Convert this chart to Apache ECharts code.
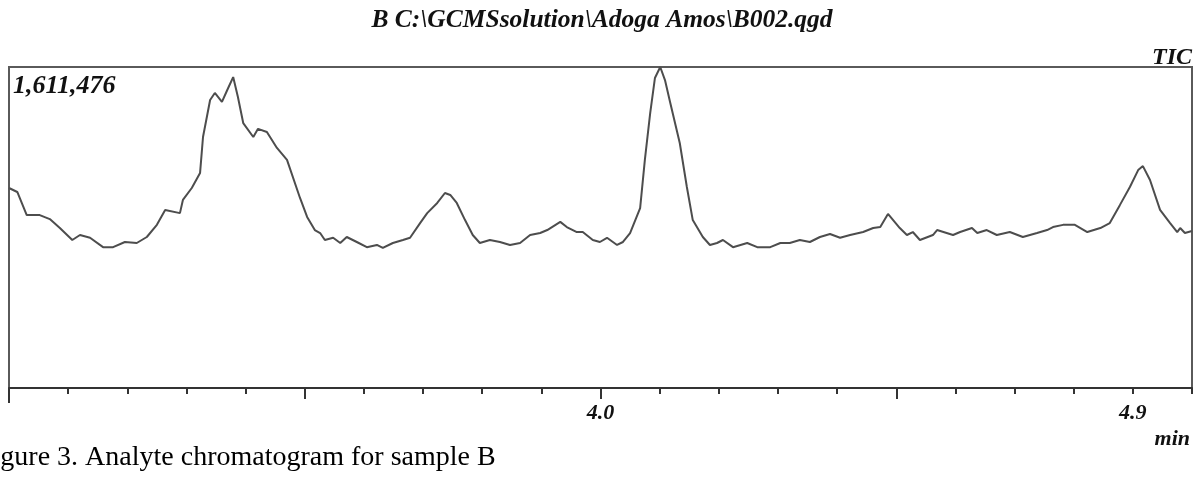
<!DOCTYPE html>
<html>
<head>
<meta charset="utf-8">
<script src="https://cdn.jsdelivr.net/npm/echarts@6/dist/echarts.min.js"></script>
<style>
html,body{margin:0;padding:0;background:#fff;}
#chart{width:1201px;height:478px;}
</style>
</head>
<body>
<div id="chart"></div>
<script>
// Retention time (min)
const times = [3.000,3.014,3.030,3.052,3.069,3.086,3.107,3.120,3.137,3.159,3.176,3.196,3.216,3.233,3.250,3.264,3.289,3.294,3.309,3.323,3.328,3.340,3.348,3.360,3.369,3.379,3.387,3.396,3.413,3.421,3.436,3.453,3.470,3.492,3.504,3.517,3.526,3.534,3.548,3.560,3.571,3.588,3.605,3.622,3.632,3.649,3.666,3.678,3.695,3.707,3.724,3.737,3.746,3.757,3.771,3.784,3.796,3.813,3.830,3.847,3.864,3.881,3.898,3.910,3.932,3.943,3.960,3.970,3.987,3.999,4.011,4.028,4.038,4.050,4.067,4.075,4.084,4.092,4.101,4.109,4.118,4.134,4.146,4.156,4.173,4.185,4.197,4.207,4.224,4.248,4.265,4.287,4.304,4.320,4.337,4.354,4.371,4.388,4.405,4.422,4.444,4.461,4.473,4.486,4.506,4.518,4.528,4.540,4.562,4.569,4.596,4.608,4.628,4.637,4.653,4.670,4.692,4.714,4.738,4.755,4.765,4.782,4.802,4.823,4.845,4.861,4.878,4.895,4.909,4.917,4.929,4.946,4.963,4.975,4.980,4.988,5.000];
// TIC intensity (counts)
const intensity = [1004000,984000,868000,868000,848000,803000,743000,768000,754000,707000,707000,733000,728000,758000,819000,894000,878000,944000,1004000,1079000,1260000,1446000,1481000,1436000,1496000,1561000,1461000,1330000,1260000,1301000,1285000,1205000,1145000,954000,859000,793000,778000,743000,754000,728000,758000,733000,707000,718000,703000,728000,743000,754000,828000,878000,929000,979000,969000,929000,843000,768000,728000,743000,733000,718000,728000,768000,778000,793000,834000,808000,783000,783000,743000,733000,754000,718000,733000,778000,903000,1145000,1380000,1556000,1611476,1546000,1431000,1230000,1009000,843000,758000,718000,728000,743000,707000,728000,707000,707000,728000,728000,743000,733000,758000,773000,754000,768000,783000,803000,808000,874000,803000,768000,783000,743000,768000,793000,768000,783000,803000,778000,793000,768000,783000,758000,778000,793000,808000,819000,819000,783000,803000,828000,918000,1009000,1094000,1114000,1044000,894000,828000,783000,803000,778000,788000];
const yMax = 1611476;
const xTickLabels = ['4.0', '4.9'];
const majorTicks = [3.5, 4.0, 4.5];
const titleText = 'B C:\\GCMSsolution\\Adoga Amos\\B002.qgd';
const caption = 'Figure 3. Analyte chromatogram for sample B';

const data = times.map((t, i) => [t, intensity[i]]);
const chart = echarts.init(document.getElementById('chart'), null, {renderer: 'canvas'});
const serifBI = 'italic bold ';
chart.setOption({
  animation: false,
  grid: {left: 9, right: 9, top: 67, bottom: 90, show: true, borderColor: '#5a5a5a', borderWidth: 2, backgroundColor: 'transparent'},
  xAxis: [
    {type: 'value', min: 3.0, max: 5.0, interval: 0.1,
     axisLine: {show: true, lineStyle: {color: '#333', width: 2}},
     axisTick: {show: true, length: 6, lineStyle: {color: '#333', width: 2}},
     splitLine: {show: false},
     axisLabel: {show: true, customValues: xTickLabels.map(Number), margin: 14,
       formatter: v => v.toFixed(1),
       fontFamily: 'Liberation Serif', fontStyle: 'italic', fontWeight: 'bold', fontSize: 22, color: '#111'}},
    {type: 'value', min: 3.0, max: 5.0, position: 'bottom',
     axisLine: {show: false},
     axisTick: {show: true, customValues: majorTicks, length: 11, lineStyle: {color: '#333', width: 2}},
     axisLabel: {show: false}, splitLine: {show: false}},
    {type: 'value', min: 3.0, max: 5.0, position: 'bottom',
     axisLine: {show: false},
     axisTick: {show: true, customValues: [3.0], length: 15, lineStyle: {color: '#333', width: 2}},
     axisLabel: {show: false}, splitLine: {show: false}}
  ],
  yAxis: {type: 'value', min: 0, max: yMax, show: true,
    axisLine: {show: false}, axisTick: {show: false}, axisLabel: {show: false}, splitLine: {show: false}},
  series: [{
    type: 'line', data: data, showSymbol: false, symbol: 'none', smooth: false,
    lineStyle: {color: '#4d4d4d', width: 2}
  }],
  graphic: [
    {type: 'text', style: {x: 602, y: 20, text: titleText, textAlign: 'center', textVerticalAlign: 'middle',
      font: serifBI + '25.5px "Liberation Serif"', fill: '#111'}},
    {type: 'text', style: {x: 1192, y: 58, text: 'TIC', textAlign: 'right', textVerticalAlign: 'middle',
      font: serifBI + '24px "Liberation Serif"', fill: '#111'}},
    {type: 'text', style: {x: 13, y: 86, text: yMax.toLocaleString('en-US'), textAlign: 'left', textVerticalAlign: 'middle',
      font: serifBI + '26px "Liberation Serif"', fill: '#111'}},
    {type: 'text', style: {x: 1190, y: 439, text: 'min', textAlign: 'right', textVerticalAlign: 'middle',
      font: serifBI + '22px "Liberation Serif"', fill: '#111'}},
    {type: 'text', style: {x: -23, y: 472, text: caption, textAlign: 'left', textVerticalAlign: 'bottom',
      font: '28px "Liberation Serif"', fill: '#000'}}
  ]
});
</script>
</body>
</html>
